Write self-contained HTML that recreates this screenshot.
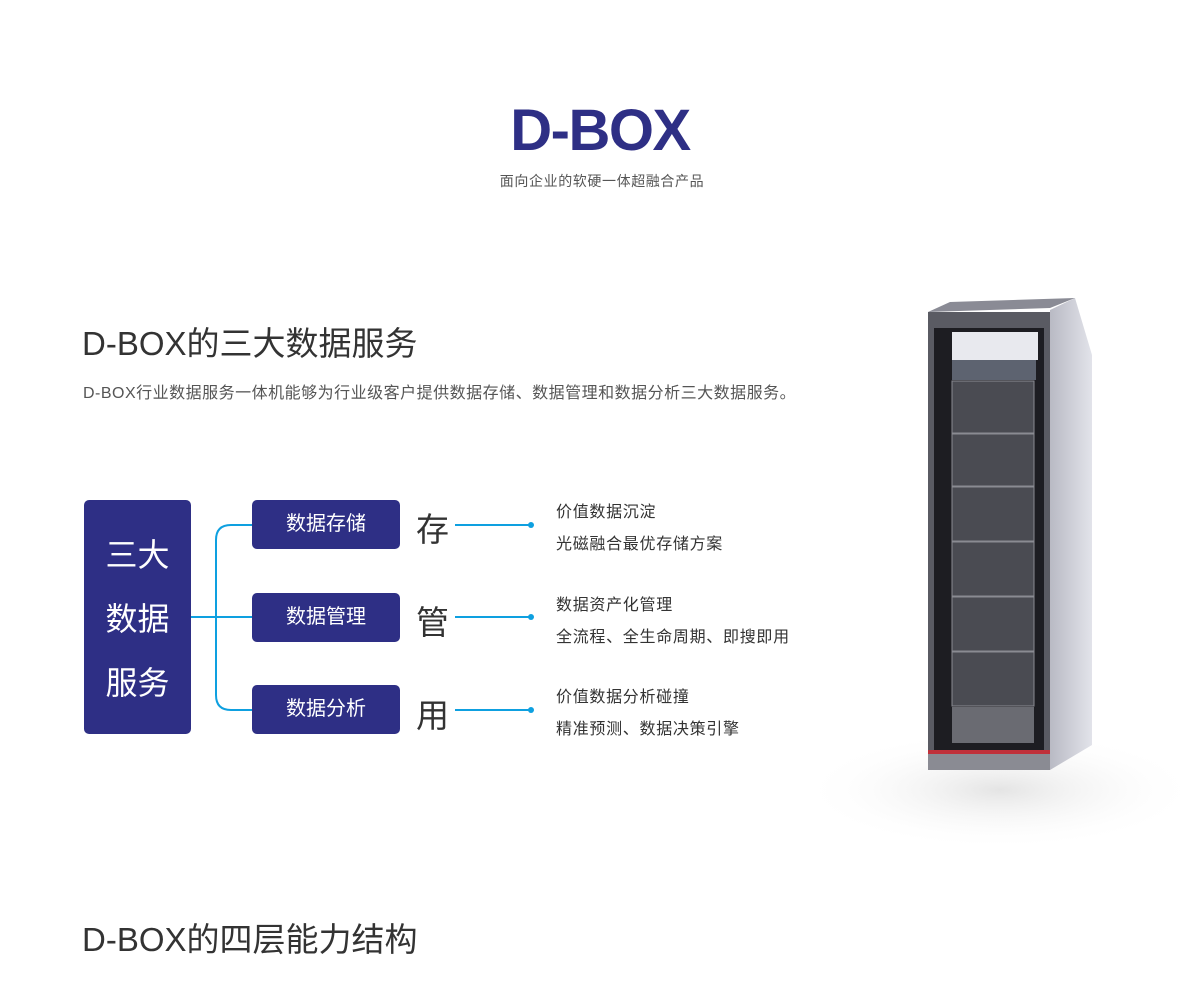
<!DOCTYPE html>
<html><head><meta charset="utf-8"><style>
body{margin:0;width:1200px;height:985px;background:#fff;position:relative;overflow:hidden;font-family:"Liberation Sans","Noto Sans CJK SC",sans-serif;}
.a{position:absolute;white-space:nowrap;}
.box{position:absolute;background:#2e2f85;border-radius:5px;color:#fff;}
.sm{left:252px;width:148px;height:49px;line-height:49px;text-align:center;font-size:20px;}
.big{font-size:33px;color:#333;left:416px;}
.t{font-size:16px;color:#333;left:556px;letter-spacing:0.7px;}
</style></head><body>
<div class="a" style="left:0;width:1200px;text-align:center;top:97px;font-size:58px;font-weight:bold;color:#2e2f85;letter-spacing:-1.5px;">D-BOX</div>
<div class="a" style="left:2px;width:1200px;text-align:center;top:171px;font-size:14px;color:#555;letter-spacing:0.6px;">面向企业的软硬一体超融合产品</div>
<div class="a" style="left:82px;top:317px;font-size:33px;color:#333;">D-BOX的三大数据服务</div>
<div class="a" style="left:83px;top:379px;font-size:16px;color:#555;letter-spacing:0.5px;">D-BOX行业数据服务一体机能够为行业级客户提供数据存储、数据管理和数据分析三大数据服务。</div>
<div class="box" style="left:84px;top:500px;width:107px;height:234px;font-size:32px;line-height:64px;text-align:center;padding-top:23px;box-sizing:border-box;">三大<br>数据<br>服务</div>
<svg class="a" style="left:0;top:0" width="1200" height="985">
<g stroke="#0ea0e0" stroke-width="2" fill="none">
<path d="M191 617H252M252 525H231Q216 525 216 540V695Q216 710 231 710H252"/>
<path d="M455 525H531M455 617H531M455 710H531"/>
</g>
<g fill="#0ea0e0"><circle cx="531" cy="525" r="3"/><circle cx="531" cy="617" r="3"/><circle cx="531" cy="710" r="3"/></g>
<defs><radialGradient id="sh" cx="0.5" cy="0.5" r="0.5"><stop offset="0" stop-color="#e4e4e4"/><stop offset="1" stop-color="#fff" stop-opacity="0"/></radialGradient>
<linearGradient id="sd" x1="0" x2="1"><stop offset="0" stop-color="#b9bac4"/><stop offset="1" stop-color="#e2e3ea"/></linearGradient></defs>
<ellipse cx="1000" cy="790" rx="200" ry="60" fill="url(#sh)"/>
<polygon points="1050,310 1075,298 1092,355 1092,745 1050,770" fill="url(#sd)"/>
<polygon points="928,312 1050,308 1075,298 950,302" fill="#8a8b95"/>
<rect x="928" y="312" width="122" height="458" fill="#5a5b63"/>
<rect x="934" y="328" width="110" height="428" fill="#1d1d22"/>
<rect x="952" y="332" width="86" height="28" fill="#e8e9ee"/>
<rect x="952" y="360" width="84" height="20" fill="#5d6370"/>
<g fill="#4a4b52" stroke="#8a8b92" stroke-width="1">
<rect x="952" y="381" width="82" height="52"/><rect x="952" y="434" width="82" height="52"/><rect x="952" y="487" width="82" height="54"/>
<rect x="952" y="542" width="82" height="54"/><rect x="952" y="597" width="82" height="54"/><rect x="952" y="652" width="82" height="54"/></g>
<rect x="952" y="707" width="82" height="36" fill="#6a6b72"/>
<rect x="928" y="750" width="122" height="4" fill="#c0303a"/>
<rect x="928" y="754" width="122" height="16" fill="#8a8b93"/>
</svg>
<div class="box sm" style="top:500px;">数据存储</div>
<div class="box sm" style="top:593px;">数据管理</div>
<div class="box sm" style="top:685px;">数据分析</div>
<div class="a big" style="top:503px;">存</div>
<div class="a big" style="top:596px;">管</div>
<div class="a big" style="top:689px;">用</div>
<div class="a t" style="top:498px;">价值数据沉淀</div>
<div class="a t" style="top:530px;">光磁融合最优存储方案</div>
<div class="a t" style="top:591px;">数据资产化管理</div>
<div class="a t" style="top:623px;">全流程、全生命周期、即搜即用</div>
<div class="a t" style="top:683px;">价值数据分析碰撞</div>
<div class="a t" style="top:715px;">精准预测、数据决策引擎</div>
<div class="a" style="left:82px;top:913px;font-size:33px;color:#333;">D-BOX的四层能力结构</div>
</body></html>
